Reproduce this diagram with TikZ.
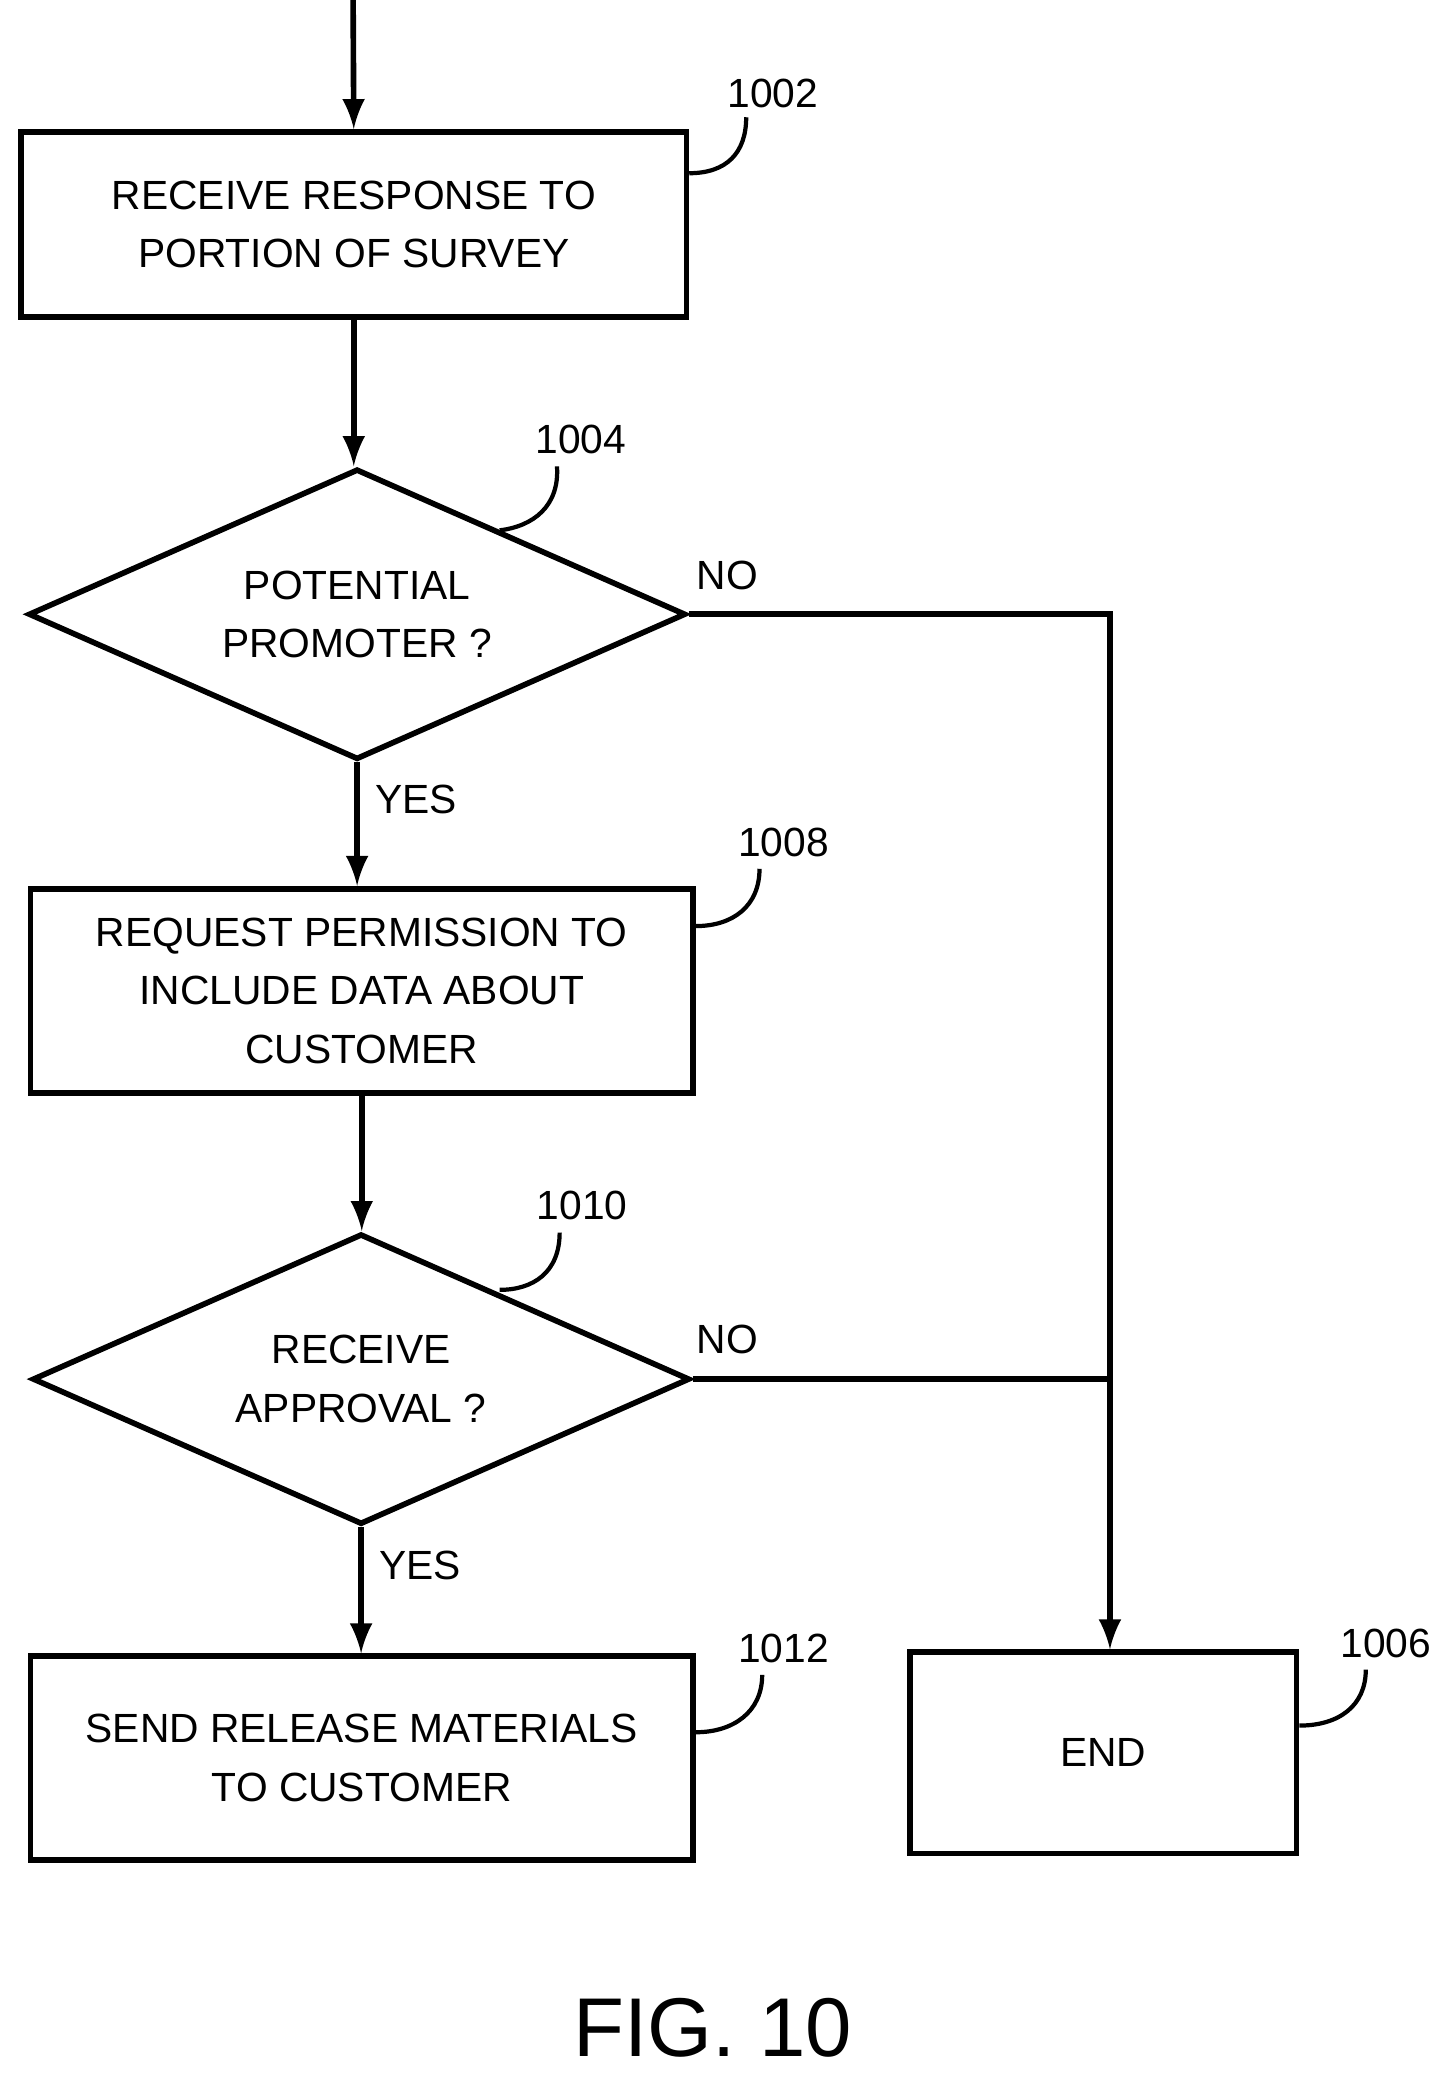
\documentclass[tikz,border=0pt]{standalone}
\usepackage{fontspec}
\setmainfont{Liberation Sans}
\usetikzlibrary{shapes.geometric}
\tikzset{
  stepbox/.style={draw,line width=1.2pt,align=center,font=\fontsize{8.7}{12.5}\selectfont},
  test/.style={draw,diamond,line width=1.2pt,align=center,aspect=2.26,inner sep=0pt,
    minimum width=4.93cm,minimum height=2.18cm,font=\fontsize{8.7}{12.5}\selectfont},
  flow/.style={line width=1.2pt,-latex},
  ref/.style={font=\fontsize{8.7}{12.5}\selectfont},
  lead/.style={line width=0.9pt}
}
\begin{document}
\begin{tikzpicture}[x=0.01cm,y=-0.01cm]
    \useasboundingbox (0,0) rectangle (1085,1561);

    \node[stepbox,minimum width=4.99cm,minimum height=1.39cm] (recv) at (265.5,168.5) {RECEIVE RESPONSE TO\\PORTION OF SURVEY};
    \node[test] (prom) at (268,461) {POTENTIAL\\PROMOTER ?};
    \node[stepbox,minimum width=4.97cm,minimum height=1.53cm] (perm) at (271.5,743.5) {REQUEST PERMISSION TO\\INCLUDE DATA ABOUT\\CUSTOMER};
    \node[test] (appr) at (271,1035) {RECEIVE\\APPROVAL ?};
    \node[stepbox,minimum width=4.97cm,minimum height=1.53cm] (send) at (271.5,1319.5) {SEND RELEASE MATERIALS\\TO CUSTOMER};
    \node[stepbox,minimum width=2.90cm,minimum height=1.51cm] (end) at (828,1315.5) {END};

    \coordinate (start) at (265,0);
    \coordinate (c1) at (833,461);
    \coordinate (c2) at (833,1035);

    % flow
    \draw[flow] (start) -- (recv.north);
    \draw[flow] (recv.south) -- (recv.south |- prom.north);
    \draw[flow] (prom.south) -- (prom.south |- perm.north) node[pos=0.3,right]{\fontsize{8.7}{12.5}\selectfont YES};
    \draw[flow] (perm.south) -- (perm.south |- appr.north);
    \draw[flow] (appr.south) -- (appr.south |- send.north) node[pos=0.3,right]{\fontsize{8.7}{12.5}\selectfont YES};
    \draw[flow] (prom.east) -- (c1) -- (c1 |- end.north);
    \draw[line width=1.2pt] (appr.east) -- (c2);
    \node[ref] (no1) at (546,432) {NO};
    \node[ref] (no2) at (546,1005) {NO};

    % reference numerals
    \node[ref] (r1002) at (580,70) {1002};
    \draw[lead] (recv.east |- 0,130) .. controls (545,130) and (560,115) .. (560,88);
    \node[ref] (r1004) at (436,330) {1004};
    \draw[lead] (375,398) .. controls (400,395) and (420,380) .. (418,350);
    \node[ref] (r1008) at (588,632) {1008};
    \draw[lead] (perm.east |- 0,695) .. controls (550,695) and (570,680) .. (570,652);
    \node[ref] (r1010) at (437,905) {1010};
    \draw[lead] (375,968) .. controls (400,968) and (420,955) .. (420,925);
    \node[ref] (r1012) at (588,1237) {1012};
    \draw[lead] (send.east |- 0,1300) .. controls (550,1300) and (572,1285) .. (572,1257);
    \node[ref] (r1006) at (1040,1233) {1006};
    \draw[lead] (end.east |- 0,1295) .. controls (1005,1295) and (1025,1280) .. (1025,1253);

    \node[font=\fontsize{17.8}{20}\selectfont] (fig) at (535,1522) {FIG. 10};
\end{tikzpicture}
\end{document}
